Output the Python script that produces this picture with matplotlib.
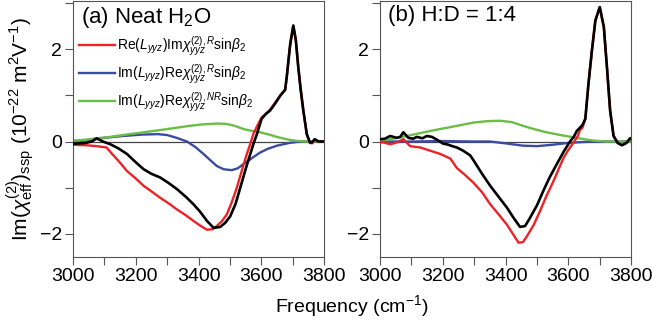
import matplotlib
matplotlib.use('Agg')
import matplotlib.pyplot as plt
from matplotlib.ticker import MultipleLocator

plt.rcParams['font.family'] = ['Liberation Sans', 'DejaVu Sans']
plt.rcParams['mathtext.fontset'] = 'custom'
plt.rcParams['mathtext.rm'] = 'Liberation Sans'
plt.rcParams['mathtext.it'] = 'Liberation Sans:italic'
plt.rcParams['mathtext.bf'] = 'Liberation Sans:bold'

# ---- panel (a): neat H2O ----
red_a_f = [3000, 3040, 3075, 3107, 3122, 3145, 3172, 3200, 3225, 3250, 3278, 3305, 3331, 3360,
           3384, 3405, 3427, 3445, 3458, 3475, 3490, 3505, 3522, 3540, 3554, 3565, 3575, 3590,
           3601, 3615, 3628, 3645, 3660, 3676, 3681, 3692, 3702, 3710, 3718, 3726, 3734, 3745,
           3755, 3762, 3770, 3783, 3800]
red_a = [-0.07, -0.08, -0.1, -0.13, -0.25, -0.42, -0.64, -0.8, -0.96, -1.08, -1.22, -1.34, -1.47, -1.6,
         -1.72, -1.82, -1.91, -1.9, -1.83, -1.72, -1.58, -1.33, -1.0, -0.58, -0.27, -0.05, 0.17, 0.38,
         0.52, 0.6, 0.69, 0.85, 0.99, 1.12, 1.39, 2.1, 2.51, 2.2, 1.6, 1.1, 0.67, 0.16,
         -0.03, -0.04, 0.04, 0.0, 0.0]

blk_a_f = [3000, 3040, 3060, 3075, 3095, 3119, 3145, 3172, 3200, 3225, 3250, 3278, 3305, 3331, 3360,
           3384, 3405, 3427, 3448, 3469, 3485, 3501, 3518, 3533, 3550, 3565, 3575, 3586, 3601,
           3615, 3628, 3645, 3660, 3676, 3681, 3692, 3702, 3710, 3718, 3726, 3734, 3745,
           3755, 3762, 3770, 3783, 3800]
blk_a = [-0.05, -0.03, 0.0, 0.07, 0.0, -0.06, -0.15, -0.27, -0.45, -0.6, -0.7, -0.78, -0.9, -1.03, -1.2,
         -1.36, -1.52, -1.72, -1.87, -1.85, -1.76, -1.62, -1.35, -1.0, -0.6, -0.27, -0.05, 0.16, 0.49,
         0.6, 0.67, 0.83, 0.99, 1.12, 1.39, 2.1, 2.51, 2.2, 1.6, 1.1, 0.67, 0.16,
         -0.02, -0.02, 0.05, 0.0, 0.0]

blue_a_f = [3000, 3050, 3100, 3160, 3220, 3270, 3300, 3330, 3363, 3390, 3416, 3440, 3458, 3480, 3506,
            3525, 3543, 3570, 3596, 3620, 3650, 3690, 3724, 3760, 3800]
blue_a = [0.0, 0.03, 0.08, 0.12, 0.15, 0.16, 0.14, 0.08, 0.0, -0.12, -0.27, -0.42, -0.53, -0.6, -0.62,
          -0.58, -0.49, -0.36, -0.24, -0.16, -0.09, -0.03, 0.0, 0.0, 0.0]

grn_a_f = [3000, 3040, 3075, 3119, 3170, 3225, 3280, 3331, 3373, 3410, 3437, 3465, 3490, 3515, 3543,
           3570, 3596, 3625, 3650, 3680, 3703, 3740, 3800]
grn_a = [0.02, 0.04, 0.07, 0.1, 0.15, 0.2, 0.25, 0.3, 0.34, 0.37, 0.38, 0.39, 0.38, 0.34, 0.27,
         0.23, 0.2, 0.15, 0.1, 0.05, 0.02, 0.0, 0.0]

# ---- panel (b): H:D = 1:4 ----
red_b_f = [3000, 3011, 3032, 3053, 3074, 3096, 3128, 3160, 3192, 3224, 3244, 3270, 3297, 3325, 3351,
           3378, 3404, 3425, 3441, 3455, 3468, 3490, 3510, 3530, 3553, 3570, 3585, 3600, 3617,
           3630, 3637, 3645, 3654, 3664, 3675, 3686, 3700, 3713, 3723, 3733, 3744, 3757, 3771,
           3785, 3797, 3800]
red_b = [-0.02, -0.02, -0.06, -0.02, 0.05, -0.1, -0.13, -0.2, -0.27, -0.37, -0.57, -0.72, -0.89, -1.1, -1.36,
         -1.58, -1.8, -2.02, -2.19, -2.18, -2.05, -1.8, -1.5, -1.18, -0.85, -0.58, -0.35, -0.18, -0.02,
         0.12, 0.25, 0.3, 0.49, 1.25, 1.97, 2.62, 2.91, 2.48, 1.6, 0.67, 0.12, -0.03, -0.08,
         -0.03, 0.07, 0.07]

blk_b_f = [3000, 3015, 3032, 3053, 3064, 3074, 3090, 3105, 3117, 3135, 3149, 3165, 3181, 3202, 3213,
           3230, 3245, 3265, 3287, 3297, 3325, 3351, 3378, 3404, 3425, 3446, 3462, 3478, 3500,
           3520, 3540, 3563, 3585, 3605, 3616, 3627, 3637, 3645, 3654, 3664, 3675, 3686, 3700,
           3713, 3723, 3733, 3744, 3757, 3771, 3785, 3797, 3800]
blk_b = [0.05, 0.06, 0.12, 0.08, 0.1, 0.2, 0.08, 0.06, 0.1, 0.07, 0.12, 0.1, 0.04, -0.05, -0.06,
         -0.1, -0.13, -0.2, -0.3, -0.4, -0.7, -0.96, -1.2, -1.43, -1.65, -1.85, -1.83, -1.65, -1.38,
         -1.07, -0.78, -0.49, -0.22, 0.0, 0.09, 0.23, 0.3, 0.36, 0.49, 1.25, 1.97, 2.62, 2.91,
         2.48, 1.6, 0.67, 0.12, -0.03, -0.08, -0.03, 0.07, 0.07]

blue_b_f = [3000, 3100, 3200, 3300, 3350, 3400, 3455, 3500, 3550, 3600, 3650, 3700, 3800]
blue_b = [0.0, 0.0, 0.01, 0.0, 0.0, -0.04, -0.09, -0.1, -0.07, -0.03, -0.01, 0.0, 0.0]

grn_b_f = [3000, 3040, 3085, 3140, 3191, 3245, 3297, 3340, 3382, 3420, 3455, 3490, 3530, 3575,
           3617, 3650, 3680, 3720, 3800]
grn_b = [0.02, 0.06, 0.12, 0.2, 0.27, 0.34, 0.41, 0.44, 0.45, 0.42, 0.34, 0.27, 0.2, 0.14,
         0.09, 0.05, 0.02, 0.0, 0.0]

titles = ['(a) Neat H$_2$O', '(b) H:D = 1:4']
labels = [r'Re($L_{yyz}$)Im$\chi_{yyz}^{(2),R}$sin$\beta_2$',
          r'Im($L_{yyz}$)Re$\chi_{yyz}^{(2),R}$sin$\beta_2$',
          r'Im($L_{yyz}$)Re$\chi_{yyz}^{(2),NR}$sin$\beta_2$']

RED = '#ec2227'
BLUE = '#3b4ba3'
GREEN = '#6abd45'
SPINE = '#555555'

fig = plt.figure(figsize=(6.52, 3.32), dpi=100)
ax_a = fig.add_axes([0.112, 0.226, 0.385, 0.772])
ax_b = fig.add_axes([0.583, 0.226, 0.385, 0.772])

panels = [
    (ax_a, red_a_f, red_a, blk_a_f, blk_a, blue_a_f, blue_a, grn_a_f, grn_a),
    (ax_b, red_b_f, red_b, blk_b_f, blk_b, blue_b_f, blue_b, grn_b_f, grn_b),
]

for i, (ax, rf, rv, kf, kv, bf, bv, gf, gv) in enumerate(panels):
    ax.axhline(0, color='#444444', lw=0.9, zorder=1)
    ax.plot(rf, rv, color=RED, lw=1.7, label=labels[0], zorder=3)
    ax.plot(bf, bv, color=BLUE, lw=1.7, label=labels[1], zorder=2)
    ax.plot(gf, gv, color=GREEN, lw=1.7, label=labels[2], zorder=2)
    ax.plot(kf, kv, color='black', lw=1.9, zorder=4)

    ax.set_xlim(3000, 3800)
    ax.set_ylim(-2.5, 3.05)
    ax.xaxis.set_major_locator(MultipleLocator(200))
    ax.xaxis.set_minor_locator(MultipleLocator(100))
    ax.yaxis.set_major_locator(MultipleLocator(2))
    ax.yaxis.set_minor_locator(MultipleLocator(1))
    ax.tick_params(which='both', direction='out', top=False, right=False,
                   color=SPINE, labelsize=14, pad=2)
    ax.tick_params(which='major', length=6, width=0.8)
    ax.tick_params(which='minor', length=6, width=0.8)
    for s in ax.spines.values():
        s.set_color(SPINE)
        s.set_linewidth(0.8)

    ax.text(0.03, 0.985, titles[i], transform=ax.transAxes, ha='left', va='top', fontsize=16)

ax_a.legend(loc='upper left', bbox_to_anchor=(0.0, 0.89), frameon=False, fontsize=10,
            handlelength=2.6, handletextpad=0.2, labelspacing=0.3, borderaxespad=0.2,
            borderpad=0.2)

ax_a.set_ylabel(r'Im($\chi^{(2)}_{\mathrm{eff}}$)$_{\mathrm{ssp}}$ (10$^{-22}$ m$^2$V$^{-1}$)',
                fontsize=15, labelpad=2)
fig.text(0.54, 0.04, 'Frequency (cm$^{-1}$)', ha='center', va='bottom', fontsize=14)

fig.savefig('out.png', dpi=100)
